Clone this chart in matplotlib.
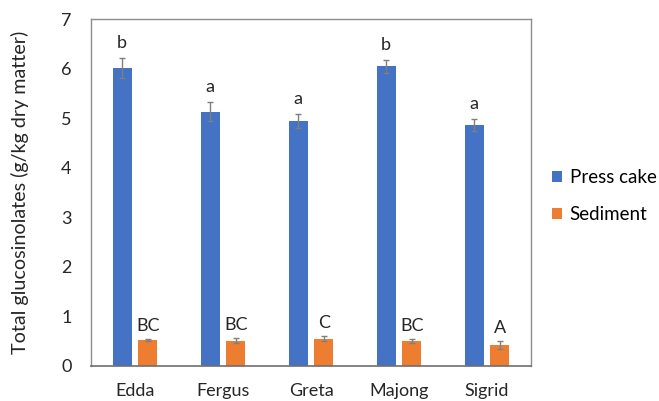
import matplotlib
matplotlib.use("Agg")
import matplotlib.pyplot as plt
import numpy as np

plt.rcParams['font.family'] = ['Lato', 'DejaVu Sans']

cultivars = ["Edda", "Fergus", "Greta", "Majong", "Sigrid"]
press_cake = [6.01, 5.13, 4.95, 6.05, 4.87]
press_cake_err = [0.21, 0.19, 0.14, 0.13, 0.12]
press_cake_letters = ["b", "a", "a", "b", "a"]
sediment = [0.52, 0.51, 0.55, 0.50, 0.42]
sediment_err = [0.02, 0.05, 0.05, 0.04, 0.08]
sediment_letters = ["BC", "BC", "C", "BC", "A"]

blue = "#4472C4"
orange = "#ED7D31"
txt = "#262626"

fig = plt.figure(figsize=(6.59, 4.01), dpi=100)
ax = fig.add_axes([91 / 659, 1 - 366 / 401, 440 / 659, 347 / 401])

x = np.arange(len(cultivars))
w = 0.22
off = 0.145
ekw = dict(ecolor="#7f7f7f", elinewidth=1, capsize=2.5, capthick=1)
ax.bar(x - off, press_cake, w, yerr=press_cake_err, color=blue,
       label="Press cake", error_kw=ekw, zorder=2)
ax.bar(x + off, sediment, w, yerr=sediment_err, color=orange,
       label="Sediment", error_kw=ekw, zorder=2)

for i in range(len(cultivars)):
    ax.annotate(press_cake_letters[i], (x[i] - off, press_cake[i] + press_cake_err[i]),
                xytext=(0, 5), textcoords="offset points", ha="center", va="bottom",
                fontsize=13, color=txt)
    ax.annotate(sediment_letters[i], (x[i] + off, sediment[i] + sediment_err[i]),
                xytext=(0, 4), textcoords="offset points", ha="center", va="bottom",
                fontsize=13, color=txt)

ax.set_xlim(-0.5, len(cultivars) - 0.5)
ax.set_ylim(0, 7)
ax.set_yticks(range(0, 8))
ax.set_xticks(x)
ax.set_xticklabels(cultivars, fontsize=14)
ax.tick_params(axis="both", length=0, labelsize=13, colors=txt)
ax.tick_params(axis="y", pad=14)
ax.tick_params(axis="x", pad=12)
ax.set_ylabel("Total glucosinolates (g/kg dry matter)", fontsize=14.2, color=txt)
ax.yaxis.set_label_coords(-0.14, 0.5)

for s in ["top", "left", "right"]:
    ax.spines[s].set_color("#8c8c8c")
    ax.spines[s].set_linewidth(1)
ax.spines["bottom"].set_color("#6e6e6e")
ax.spines["bottom"].set_linewidth(1.2)

fig.legend(loc="center left", bbox_to_anchor=(552 / 659, 1 - 196 / 401),
           frameon=False, fontsize=13.5, handlelength=0.55, handleheight=0.55,
           labelspacing=1.05, handletextpad=0.4, borderpad=0, borderaxespad=0)

fig.savefig("out.png", dpi=100)
